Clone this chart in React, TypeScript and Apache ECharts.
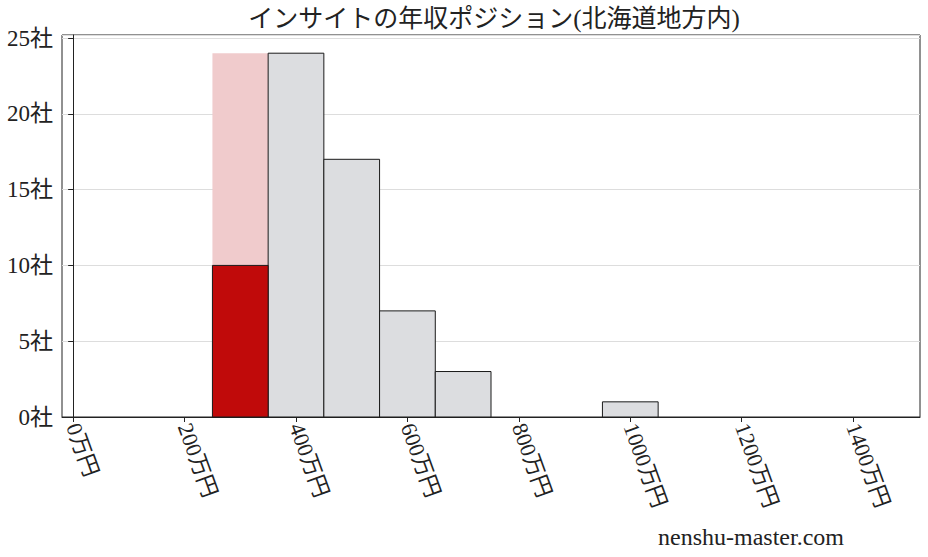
import React, { useEffect, useRef } from "react";
import * as echarts from "echarts";

const binStarts = [250, 350, 450, 550, 650, 750, 850, 950];
const binEnds = [350, 450, 550, 650, 750, 850, 950, 1050];
const binCounts = [24, 24, 17, 7, 3, 0, 0, 1];
const highlightStart = 250;
const highlightEnd = 350;
const highlightCount = 10;
const xTickValues = [0, 200, 400, 600, 800, 1000, 1200, 1400];
const titleText = "インサイトの年収ポジション(北海道地方内)";
const watermark = "nenshu-master.com";

const FONT = "'Liberation Serif', 'Noto Sans CJK JP', serif";

export default function App() {
  const ref = useRef<HTMLDivElement>(null);
  useEffect(() => {
    if (!ref.current) return;
    const chart = echarts.init(ref.current, undefined, { renderer: "svg" });
    const histData = binStarts.map((s, i) => [s, binEnds[i], binCounts[i], s === highlightStart ? 1 : 0]);
    const rectItem = (api: any, fill: string, stroke: string | null) => {
      const s = api.value(0), e = api.value(1), c = api.value(2);
      if (!c) return null;
      const p0 = api.coord([s, 0]);
      const p1 = api.coord([e, c]);
      return {
        type: "rect",
        shape: { x: p0[0], y: p1[1], width: p1[0] - p0[0], height: p0[1] - p1[1] },
        style: { fill, stroke: stroke || "none", lineWidth: stroke ? 1 : 0 },
      };
    };
    chart.setOption({
      animation: false,
      title: {
        text: titleText,
        left: 489,
        top: 1,
        textAlign: "center",
        textStyle: { fontFamily: FONT, fontSize: 25, fontWeight: "normal", color: "#222" },
      },
      graphic: [
        {
          type: "text",
          x: 751,
          y: 537,
          style: {
            text: watermark,
            fontFamily: FONT,
            fontSize: 24,
            fill: "#222",
            textAlign: "center",
            textVerticalAlign: "middle",
          },
        },
      ],
      grid: {
        left: 62,
        right: 8,
        top: 35,
        bottom: 140,
        show: true,
        borderColor: "#222",
        borderWidth: 1,
        backgroundColor: "transparent",
      },
      xAxis: {
        type: "value",
        min: -20,
        max: 1520,
        axisLine: { show: true, lineStyle: { color: "#222" } },
        axisTick: { show: true, length: 5, lineStyle: { color: "#222" }, customValues: xTickValues },
        axisLabel: {
          customValues: xTickValues,
          rotate: -70,
          margin: 7,
          fontFamily: FONT,
          fontSize: 22,
          color: "#222",
          formatter: (v: number) => `${v}万円`,
        },
        splitLine: { show: false },
      },
      yAxis: {
        type: "value",
        min: 0,
        max: 25.2,
        interval: 5,
        axisLine: { show: true, lineStyle: { color: "#222" } },
        axisTick: { show: true, length: 5, lineStyle: { color: "#222" } },
        axisLabel: {
          margin: 9,
          fontFamily: FONT,
          fontSize: 23,
          color: "#222",
          showMaxLabel: false,
          formatter: (v: number) => (v % 5 === 0 ? `${v}社` : ""),
        },
        splitLine: { show: true, lineStyle: { color: "#dddddd", width: 1 } },
      },
      series: [
        {
          type: "custom",
          data: histData,
          encode: { x: [0, 1], y: 2 },
          renderItem: (params: any, api: any) =>
            api.value(3) === 1 ? rectItem(api, "#f0cbcc", null) : rectItem(api, "#dcdde0", "#1a1a1a"),
        },
        {
          type: "custom",
          data: [[highlightStart, highlightEnd, highlightCount]],
          encode: { x: [0, 1], y: 2 },
          renderItem: (params: any, api: any) => rectItem(api, "#c00a0a", "#1a1a1a"),
        },
      ],
    });
    return () => chart.dispose();
  }, []);
  return (
    <div
      ref={ref}
      style={{ position: "fixed", left: 0, top: 0, width: 928, height: 557, background: "#fff" }}
    />
  );
}
